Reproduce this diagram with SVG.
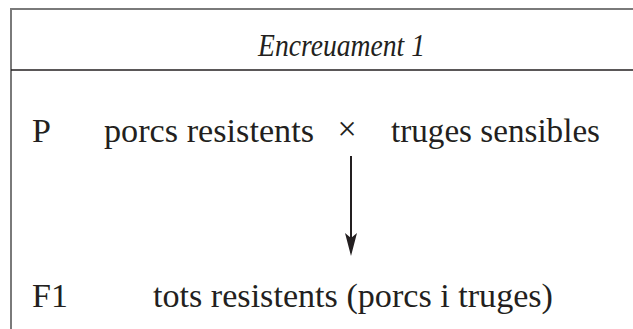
<svg xmlns="http://www.w3.org/2000/svg" width="633" height="329" viewBox="0 0 633 329">
  <rect width="633" height="329" fill="#ffffff"/>
  <g id="frame">
    <path d="M11,329 L11,9 L633,9" stroke="#7a7a7a" stroke-width="2" fill="none"/>
    <line x1="11" y1="70" x2="633" y2="70" stroke="#231f20" stroke-width="1.6"/>
  </g>
  <g id="row-P">
    <text x="32" y="142" font-family="Liberation Serif" font-size="34" fill="#231f20">P</text>
  </g>
  <g id="node-porcs">
    <text x="104" y="142" font-family="Liberation Serif" font-size="34" fill="#231f20" textLength="210" lengthAdjust="spacingAndGlyphs">porcs resistents</text>
  </g>
  <g id="cross">
    <text x="347" y="140" text-anchor="middle" font-family="Liberation Serif" font-size="34" fill="#231f20">&#215;</text>
  </g>
  <g id="node-truges">
    <text x="391" y="142" font-family="Liberation Serif" font-size="34" fill="#231f20" textLength="209" lengthAdjust="spacingAndGlyphs">truges sensibles</text>
  </g>
  <g id="row-F1">
    <text x="32" y="307" font-family="Liberation Serif" font-size="34" fill="#231f20">F1</text>
  </g>
  <g id="node-F1">
    <text x="153" y="307" font-family="Liberation Serif" font-size="34" fill="#231f20" textLength="400" lengthAdjust="spacingAndGlyphs">tots resistents (porcs i truges)</text>
  </g>
  <g id="title">
    <text x="258" y="56" font-family="Liberation Serif" font-size="32" font-style="italic" fill="#231f20" textLength="167" lengthAdjust="spacingAndGlyphs">Encreuament 1</text>
  </g>
  <g id="connectors">
    <line x1="351" y1="156" x2="351" y2="240" stroke="#231f20" stroke-width="2"/>
    <path d="M351,256 L345,233 L351,238 L357,233 Z" fill="#231f20"/>
  </g>
</svg>
